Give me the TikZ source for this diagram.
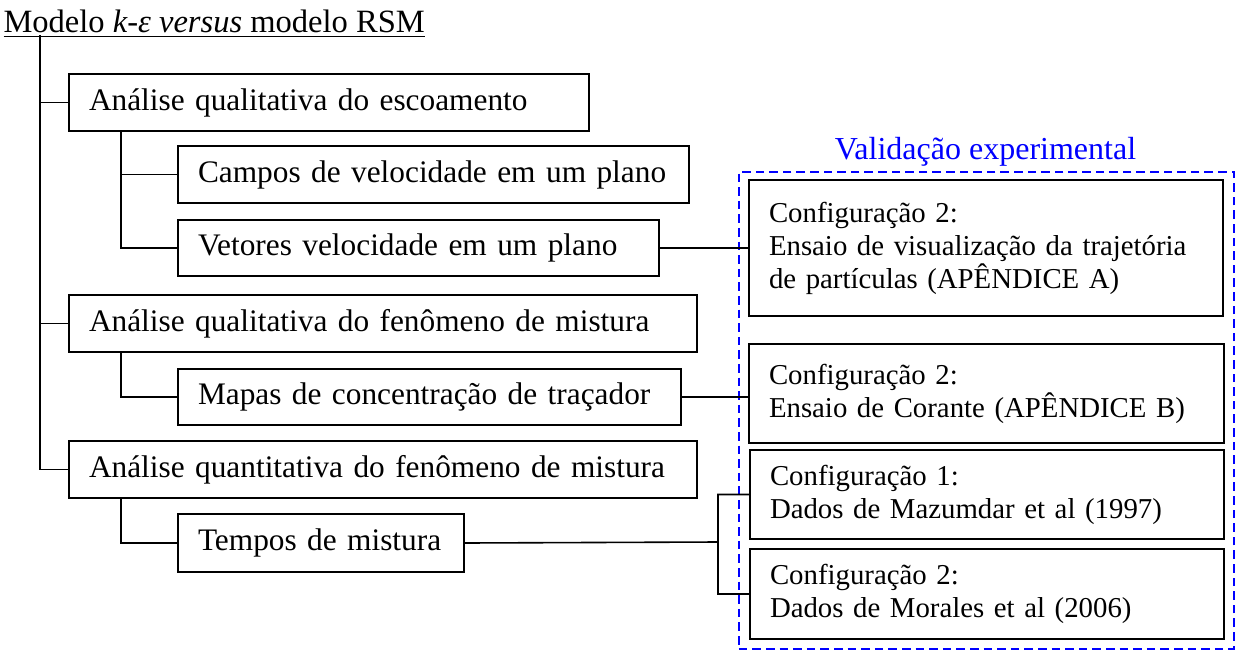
\documentclass[tikz,border=0pt]{standalone}
\usepackage{fontspec}
\setmainfont{Liberation Serif}
\tikzset{
  caixa/.style={draw, line width=0.75pt, anchor=north west, align=left,
    inner xsep=7.5pt, font=\fontsize{11.75}{13.5}\selectfont,
    execute at begin node={\rightskip=-15pt plus 1fil}},
  caixaval/.style={caixa, font=\fontsize{10.8}{12.4}\selectfont},
  liga/.style={line width=0.6pt},
  moldura/.style={draw=blue, line width=0.6pt, dash pattern=on 3.2pt off 1.9pt,
    anchor=north west, inner sep=0pt}
}

\begin{document}
\begin{tikzpicture}[x=0.375pt, y=-0.375pt]
    \useasboundingbox (0,0) rectangle (1239,650);
    \node[anchor=base west, inner sep=0pt, font=\fontsize{12.2}{14}\selectfont] (titulo) at (3,32)
      {\underline{Modelo \textit{k-ε versus} modelo RSM}};
    \coordinate (raiz) at (40,35);

    \node[caixa, text width=180pt, minimum height=21.375pt] (qualesc) at (68,73) {Análise qualitativa do escoamento};
    \node[caixa, text width=176.625pt, minimum height=21.375pt] (campos) at (177,145) {Campos de velocidade em um plano};
    \node[caixa, text width=165.375pt, minimum height=21pt] (vetores) at (177,219) {Vetores velocidade em um plano};
    \node[caixa, text width=220.5pt, minimum height=21.375pt] (qualmis) at (68,294) {Análise qualitativa do fenômeno de mistura};
    \node[caixa, text width=173.625pt, minimum height=21pt] (mapas) at (177,368) {Mapas de concentração de traçador};
    \node[caixa, text width=220.5pt, minimum height=21.375pt] (quantmis) at (68,440) {Análise quantitativa do fenômeno de mistura};
    \node[caixa, text width=92.25pt, minimum height=21.75pt] (tempos) at (177,513) {Tempos de mistura};

    \node[moldura, minimum width=185.625pt, minimum height=178.875pt] (valbox) at (738,171) {};
    \node[anchor=base, inner sep=0pt, text=blue, font=\fontsize{12}{13.8}\selectfont] (valtit) at (985.5,159) {Validação experimental};

    \node[caixaval, text width=162.75pt, minimum height=51pt] (confA) at (748,179)
      {Configuração 2:\\ Ensaio de visualização da trajetória\\ de partículas (APÊNDICE A)};
    \node[caixaval, text width=163.125pt, minimum height=37.125pt] (confB) at (748,343)
      {Configuração 2:\\ Ensaio de Corante (APÊNDICE B)};
    \node[caixaval, text width=162.75pt, minimum height=33.375pt] (conf1) at (749,449)
      {Configuração 1:\\ Dados de Mazumdar et al (1997)};
    \node[caixaval, text width=162.75pt, minimum height=33.75pt] (conf2) at (749,548)
      {Configuração 2:\\ Dados de Morales et al (2006)};

    \draw[liga] (raiz) |- (qualesc.west);
    \draw[liga] (raiz) |- (qualmis.west);
    \draw[liga] (raiz) |- (quantmis.west);
    \draw[liga] ([xshift=19.875pt]qualesc.south west) |- (campos.west);
    \draw[liga] ([xshift=19.875pt]qualesc.south west) |- (vetores.west);
    \draw[liga] ([xshift=19.875pt]qualmis.south west) |- (mapas.west);
    \draw[liga] ([xshift=19.875pt]quantmis.south west) |- (tempos.west);

    \draw[liga] (vetores.east) -- (vetores.east -| confA.west);
    \draw[liga] (mapas.east) -- (mapas.east -| confB.west);
    \coordinate (garfo) at (718,542);
    \draw[liga] (tempos.east) -- (garfo) |- (conf1.west);
    \draw[liga] (garfo) |- (conf2.west);
\end{tikzpicture}
\end{document}
